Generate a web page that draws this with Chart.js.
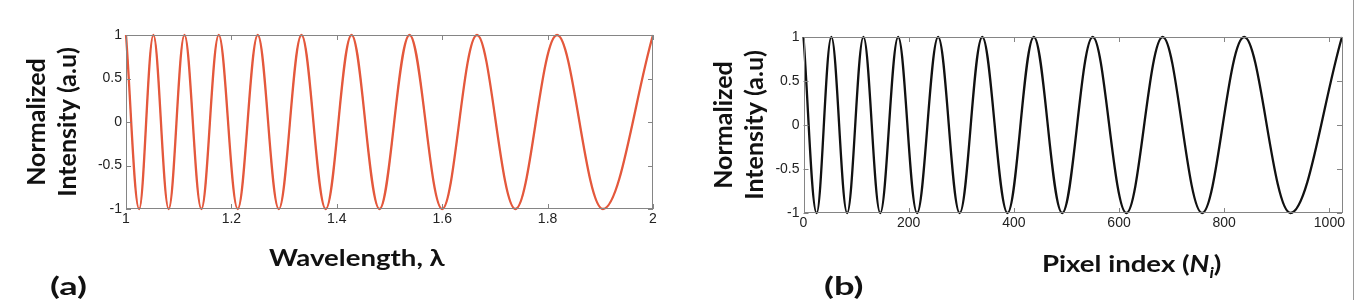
<!DOCTYPE html>
<html>
<head>
<meta charset="utf-8">
<script src="https://cdn.jsdelivr.net/npm/chart.js@4.4.1/dist/chart.umd.min.js"></script>
<style>
  html, body { margin: 0; padding: 0; background: #fff; }
  #wrap { position: relative; width: 1356px; height: 308px; overflow: hidden; }
  .panel { position: absolute; top: 0; width: 678px; height: 308px; }
  .lbl { position: absolute; font-family: Lato, "Open Sans", sans-serif; font-weight: 700; color: #111;
         white-space: nowrap; line-height: 1; transform-origin: left top; }
  .wide { transform: scaleX(1.2); }
  .tag { transform: scaleX(1.45); }
  .edge { position: absolute; left: 1353px; top: 0; width: 1px; height: 300px; background: #9a9a9a; }
</style>
</head>
<body>
<div id="wrap">
  <div class="panel" style="left:0"><canvas id="chartA"></canvas></div>
  <div class="panel" style="left:678px"><canvas id="chartB"></canvas></div>
  <div class="lbl tag" style="left:50px; top:273px; font-size:25px">(a)</div>
  <div class="lbl wide" style="left:269px; top:246px; font-size:23px">Wavelength, λ</div>
  <div class="lbl tag" style="left:824px; top:273px; font-size:25px">(b)</div>
  <div class="lbl wide" style="left:1042px; top:252px; font-size:23px">Pixel index (<i>N</i><sub style="font-size:15px"><i>i</i></sub>)</div>
  <div class="edge"></div>
</div>
<script>
// extrema (peak = 1, trough = -1)
const wavelength = [1, 1.025, 1.052, 1.081, 1.111, 1.143, 1.176, 1.212, 1.25, 1.29, 1.333,
  1.379, 1.428, 1.481, 1.538, 1.6, 1.666, 1.739, 1.818, 1.905, 2];
const intensityA = [1, -1, 1, -1, 1, -1, 1, -1, 1, -1, 1, -1, 1, -1, 1, -1, 1, -1, 1, -1, 1];

const pixelIndex = [0, 25, 53, 83, 114, 146, 180, 216, 256, 297, 340, 388, 438, 492, 550,
  614, 683, 758, 838, 926, 1024];
const intensityB = [1, -1, 1, -1, 1, -1, 1, -1, 1, -1, 1, -1, 1, -1, 1, -1, 1, -1, 1, -1, 1];

const xTicksA = [1, 1.2, 1.4, 1.6, 1.8, 2];
const xTicksB = [0, 200, 400, 600, 800, 1000];
const yTicks = [-1, -0.5, 0, 0.5, 1];

const toPoints = (xs, ys) => xs.map((x, i) => ({ x, y: ys[i] }));

// matlab-like box with inward tick marks
const boxTicks = {
  id: 'boxTicks',
  afterDatasetsDraw(chart) {
    const { ctx, chartArea: a, scales: { x, y } } = chart;
    ctx.save();
    ctx.strokeStyle = '#858585';
    ctx.lineWidth = 1;
    ctx.strokeRect(Math.round(a.left) + 0.5, Math.round(a.top) + 0.5,
      Math.round(a.width) - 1, Math.round(a.height) - 1);
    ctx.beginPath();
    x.ticks.forEach(t => {
      const px = Math.round(x.getPixelForValue(t.value)) + 0.5;
      ctx.moveTo(px, a.bottom); ctx.lineTo(px, a.bottom - 5);
      ctx.moveTo(px, a.top); ctx.lineTo(px, a.top + 5);
    });
    y.ticks.forEach(t => {
      const py = Math.round(y.getPixelForValue(t.value)) + 0.5;
      ctx.moveTo(a.left, py); ctx.lineTo(a.left + 5, py);
      ctx.moveTo(a.right, py); ctx.lineTo(a.right - 5, py);
    });
    ctx.stroke();
    ctx.restore();
  }
};

function makeChart(id, xs, ys, xTicks, xMax, color, pad, yWidth, extra) {
  const tickFont = { family: '"Liberation Sans", Arial, sans-serif', size: 14 };
  const datasets = [{
    data: toPoints(xs, ys),
    borderColor: color,
    borderWidth: 2.3,
    pointRadius: 0,
    tension: 0.36,
    clip: false,
  }];
  if (extra) datasets.push(extra(toPoints(xs, ys)));
  return new Chart(document.getElementById(id), {
    type: 'line',
    data: { datasets },
    options: {
      responsive: true,
      maintainAspectRatio: false,
      animation: false,
      layout: { padding: pad },
      plugins: { legend: { display: false }, tooltip: { enabled: false } },
      scales: {
        x: {
          type: 'linear',
          min: xTicks[0],
          max: xMax,
          afterBuildTicks: s => { s.ticks = xTicks.map(v => ({ value: v })); },
          afterFit: s => { s.height = 30; },
          grid: { display: false, drawTicks: false },
          border: { display: false },
          ticks: { font: tickFont, color: '#222', padding: 2, maxRotation: 0, callback: v => String(v) }
        },
        y: {
          min: -1,
          max: 1,
          afterBuildTicks: s => { s.ticks = yTicks.map(v => ({ value: v })); },
          afterFit: s => { s.width = yWidth; },
          grid: { display: false, drawTicks: false },
          border: { display: false },
          ticks: { font: tickFont, color: '#222', padding: 4, callback: v => String(v) },
          title: {
            display: true,
            text: ['Normalized', 'Intensity (a.u)'],
            font: { family: 'Lato, "Open Sans", sans-serif', size: 25, weight: 'bold', lineHeight: 1.25 },
            color: '#111',
            padding: 0
          }
        }
      }
    },
    plugins: [boxTicks]
  });
}

makeChart('chartA', wavelength, intensityA, xTicksA, 2, '#e4583c',
  { left: 21, right: 25, top: 35, bottom: 69 }, 105,
  pts => ({ data: pts, borderColor: 'rgba(150,40,20,0.55)', borderWidth: 1, borderDash: [3, 3],
    pointRadius: 0, tension: 0.36, clip: false }));

makeChart('chartB', pixelIndex, intensityB, xTicksB, 1024, '#111',
  { left: 30, right: 14, top: 37, bottom: 65 }, 95.5);
</script>
</body>
</html>
